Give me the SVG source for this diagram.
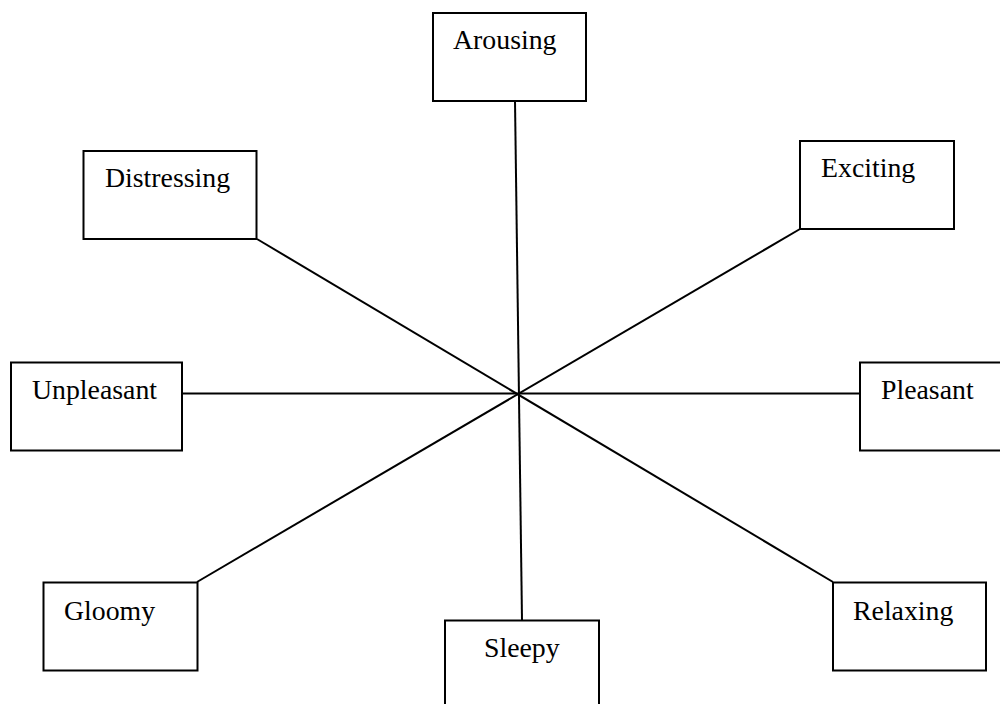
<svg xmlns="http://www.w3.org/2000/svg" width="1000" height="704" viewBox="0 0 1000 704">
<style>
.box{fill:#fff;stroke:#000;stroke-width:2}
.lbl{font-family:"Liberation Serif","Times New Roman",serif;font-size:27.8px;fill:#000}
.conn line{stroke:#000;stroke-width:2}
</style>
<rect width="1000" height="704" fill="#fff"/>
<g id="connectors" class="conn">
<line x1="515" y1="101" x2="522" y2="620"/>
<line x1="182" y1="393.5" x2="860" y2="393.5"/>
<line x1="257" y1="239" x2="833" y2="582"/>
<line x1="800" y1="229" x2="197" y2="582"/>
</g>
<g id="arousing"><rect class="box" x="433" y="13" width="153" height="88"/><text class="lbl" x="453" y="49">Arousing</text></g>
<g id="distressing"><rect class="box" x="83.5" y="151" width="173" height="88"/><text class="lbl" x="105" y="187">Distressing</text></g>
<g id="exciting"><rect class="box" x="800" y="141" width="154" height="88"/><text class="lbl" x="821" y="177">Exciting</text></g>
<g id="unpleasant"><rect class="box" x="11" y="362.5" width="171" height="88"/><text class="lbl" x="32" y="399">Unpleasant</text></g>
<g id="pleasant"><rect class="box" x="860" y="362.5" width="160" height="88"/><text class="lbl" x="881" y="399">Pleasant</text></g>
<g id="gloomy"><rect class="box" x="43.5" y="582.5" width="154" height="88"/><text class="lbl" x="64" y="620">Gloomy</text></g>
<g id="sleepy"><rect class="box" x="445" y="620.5" width="154" height="100"/><text class="lbl" x="484" y="657">Sleepy</text></g>
<g id="relaxing"><rect class="box" x="833" y="582.5" width="153" height="88"/><text class="lbl" x="853" y="620">Relaxing</text></g>
</svg>
